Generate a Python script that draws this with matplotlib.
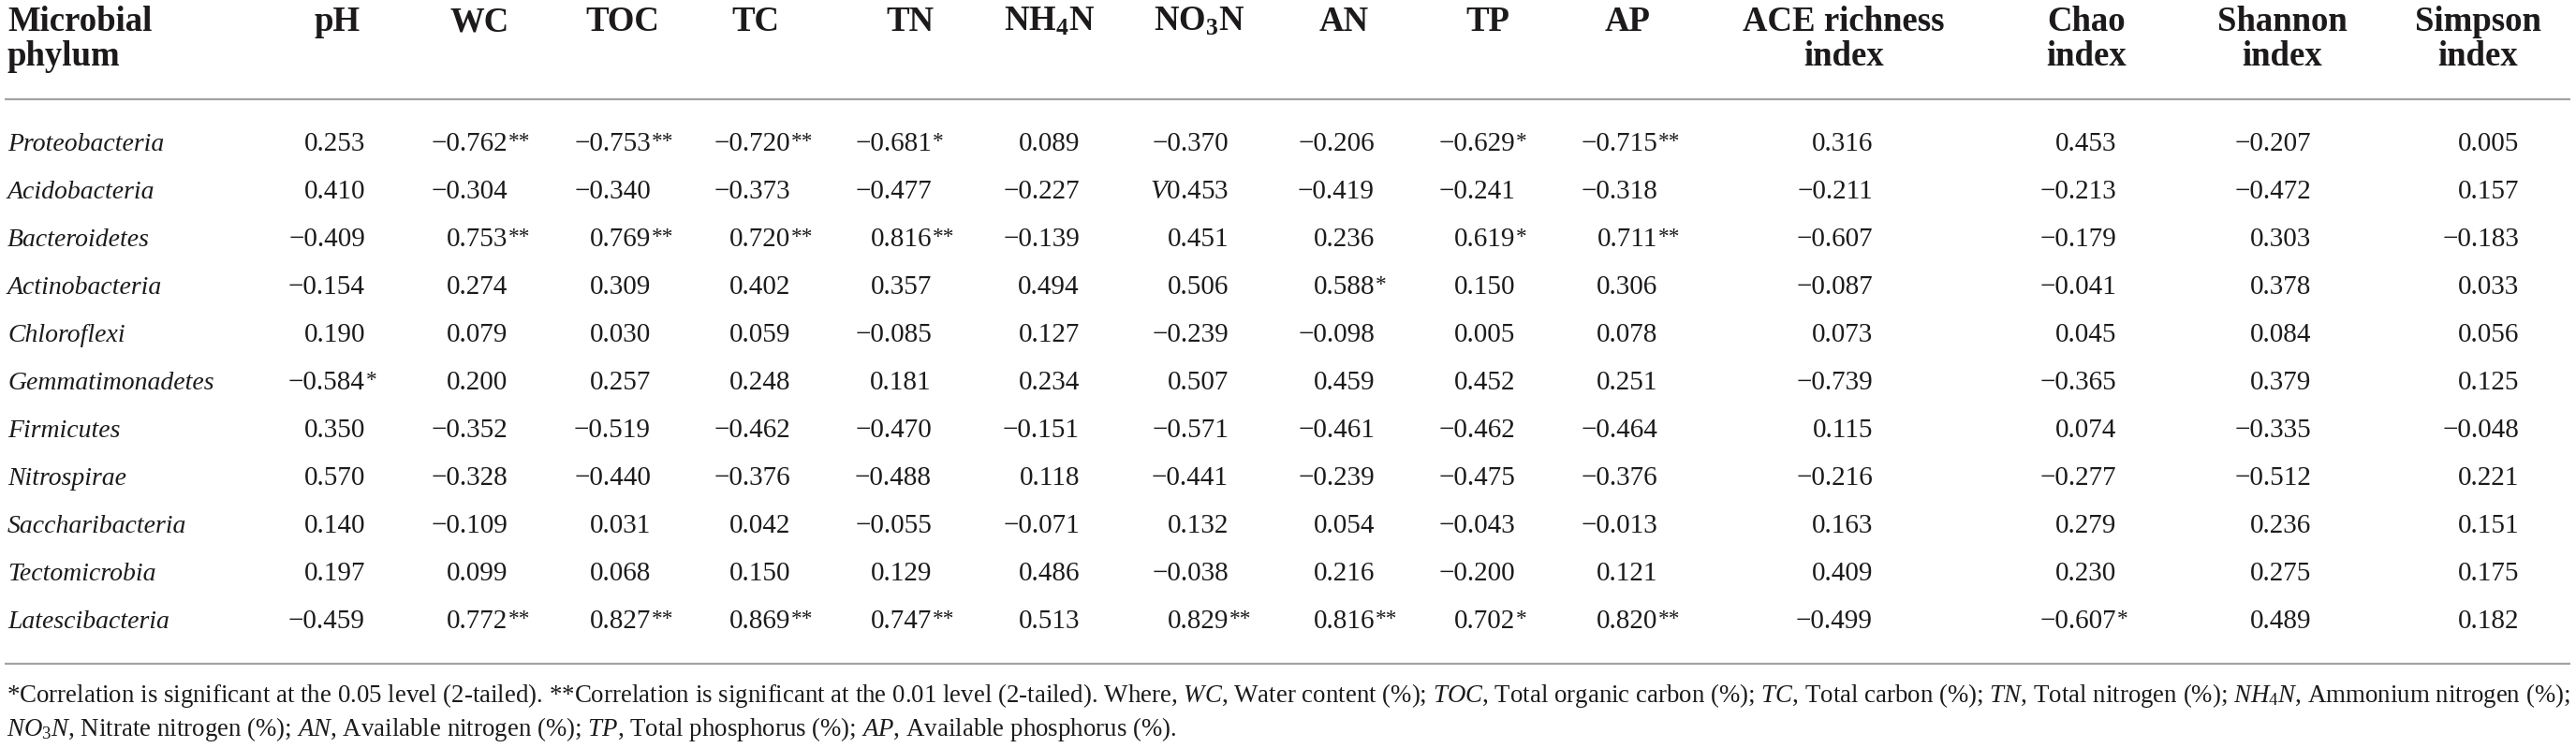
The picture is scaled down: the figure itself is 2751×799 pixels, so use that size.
import matplotlib
matplotlib.use("Agg")
import matplotlib.pyplot as plt

# ---------------- data ----------------
phyla = ["Proteobacteria", "Acidobacteria", "Bacteroidetes", "Actinobacteria",
         "Chloroflexi", "Gemmatimonadetes", "Firmicutes", "Nitrospirae",
         "Saccharibacteria", "Tectomicrobia", "Latescibacteria"]

col_labels = ["pH", "WC", "TOC", "TC", "TN", r"NH$_\mathbf{4}$N", r"NO$_\mathbf{3}$N",
              "AN", "TP", "AP", "ACE richness\nindex", "Chao\nindex",
              "Shannon\nindex", "Simpson\nindex"]

ph      = [0.253, 0.410, -0.409, -0.154, 0.190, -0.584, 0.350, 0.570, 0.140, 0.197, -0.459]
wc      = [-0.762, -0.304, 0.753, 0.274, 0.079, 0.200, -0.352, -0.328, -0.109, 0.099, 0.772]
toc     = [-0.753, -0.340, 0.769, 0.309, 0.030, 0.257, -0.519, -0.440, 0.031, 0.068, 0.827]
tc      = [-0.720, -0.373, 0.720, 0.402, 0.059, 0.248, -0.462, -0.376, 0.042, 0.150, 0.869]
tn      = [-0.681, -0.477, 0.816, 0.357, -0.085, 0.181, -0.470, -0.488, -0.055, 0.129, 0.747]
nh4n    = [0.089, -0.227, -0.139, 0.494, 0.127, 0.234, -0.151, 0.118, -0.071, 0.486, 0.513]
no3n    = [-0.370, 0.453, 0.451, 0.506, -0.239, 0.507, -0.571, -0.441, 0.132, -0.038, 0.829]
an      = [-0.206, -0.419, 0.236, 0.588, -0.098, 0.459, -0.461, -0.239, 0.054, 0.216, 0.816]
tp      = [-0.629, -0.241, 0.619, 0.150, 0.005, 0.452, -0.462, -0.475, -0.043, -0.200, 0.702]
ap      = [-0.715, -0.318, 0.711, 0.306, 0.078, 0.251, -0.464, -0.376, -0.013, 0.121, 0.820]
ace     = [0.316, -0.211, -0.607, -0.087, 0.073, -0.739, 0.115, -0.216, 0.163, 0.409, -0.499]
chao    = [0.453, -0.213, -0.179, -0.041, 0.045, -0.365, 0.074, -0.277, 0.279, 0.230, -0.607]
shannon = [-0.207, -0.472, 0.303, 0.378, 0.084, 0.379, -0.335, -0.512, 0.236, 0.275, 0.489]
simpson = [0.005, 0.157, -0.183, 0.033, 0.056, 0.125, -0.048, 0.221, 0.151, 0.175, 0.182]

# number of significance stars per cell
ph_sig      = [0, 0, 0, 0, 0, 1, 0, 0, 0, 0, 0]
wc_sig      = [2, 0, 2, 0, 0, 0, 0, 0, 0, 0, 2]
toc_sig     = [2, 0, 2, 0, 0, 0, 0, 0, 0, 0, 2]
tc_sig      = [2, 0, 2, 0, 0, 0, 0, 0, 0, 0, 2]
tn_sig      = [1, 0, 2, 0, 0, 0, 0, 0, 0, 0, 2]
nh4n_sig    = [0] * 11
no3n_sig    = [0, 0, 0, 0, 0, 0, 0, 0, 0, 0, 2]
an_sig      = [0, 0, 0, 1, 0, 0, 0, 0, 0, 0, 2]
tp_sig      = [1, 0, 1, 0, 0, 0, 0, 0, 0, 0, 1]
ap_sig      = [2, 0, 2, 0, 0, 0, 0, 0, 0, 0, 2]
ace_sig     = [0] * 11
chao_sig    = [0, 0, 0, 0, 0, 0, 0, 0, 0, 0, 1]
shannon_sig = [0] * 11
simpson_sig = [0] * 11

# stray italic prefix printed in the source table (row, column) -> text
cell_prefix = {(1, 6): "V"}

footnote_1 = (r"*Correlation is significant at the 0.05 level (2-tailed). **Correlation is significant "
              r"at the 0.01 level (2-tailed). Where, $\mathit{WC}$, Water content (%); $\mathit{TOC}$, "
              r"Total organic carbon (%); $\mathit{TC}$, Total carbon (%); $\mathit{TN}$, Total nitrogen (%); "
              r"$\mathit{NH_4N}$, Ammonium nitrogen (%);")
footnote_2 = (r"$\mathit{NO_3N}$, Nitrate nitrogen (%); $\mathit{AN}$, Available nitrogen (%); "
              r"$\mathit{TP}$, Total phosphorus (%); $\mathit{AP}$, Available phosphorus (%).")

columns = [ph, wc, toc, tc, tn, nh4n, no3n, an, tp, ap, ace, chao, shannon, simpson]
sigs = [ph_sig, wc_sig, toc_sig, tc_sig, tn_sig, nh4n_sig, no3n_sig, an_sig, tp_sig,
        ap_sig, ace_sig, chao_sig, shannon_sig, simpson_sig]

# ---------------- layout ----------------
W, H = 2751, 799
plt.rcParams["mathtext.fontset"] = "custom"
plt.rcParams["mathtext.rm"] = "Liberation Serif"
plt.rcParams["mathtext.it"] = "Liberation Serif:italic"
plt.rcParams["mathtext.bf"] = "Liberation Serif:bold"
plt.rcParams["font.family"] = ["Liberation Serif", "DejaVu Serif"]

TXT = "#1c1a1b"
RULE = "#a3a3a3"
head_fs = 26.5
label_fs = 20
num_fs = 21

head_centers = [360, 512, 665, 807, 972, 1121, 1281, 1435, 1589, 1738, 1969, 2228, 2437, 2646]
num_right = [390, 542, 695, 844, 995, 1153, 1312, 1468, 1618, 1770, 2000, 2260, 2468, 2690]
label_x = 8
head_base = [33, 70]
row_base0, row_step = 161, 51

fig = plt.figure(figsize=(W / 100, H / 100), dpi=100)
ax = fig.add_axes([0, 0, 1, 1])
ax.set_xlim(0, W)
ax.set_ylim(H, 0)
ax.axis("off")

# header
for i, line in enumerate(["Microbial", "phylum"]):
    ax.text(label_x, head_base[i], line, fontsize=head_fs, fontweight="bold",
            ha="left", va="baseline", color=TXT)
for cx, lab in zip(head_centers, col_labels):
    for i, line in enumerate(lab.split("\n")):
        ax.text(cx, head_base[i], line, fontsize=head_fs, fontweight="bold",
                ha="center", va="baseline", color=TXT)

ax.plot([5, 2745], [106, 106], color=RULE, lw=1.6, solid_capstyle="butt")


def fmt(v):
    return ("\u2212" if v < 0 else "") + f"{abs(v):.3f}"


for r, name in enumerate(phyla):
    yb = row_base0 + r * row_step
    ax.text(label_x, yb, name, fontsize=label_fs, style="italic",
            ha="left", va="baseline", color=TXT)
    for c, (vals, sg) in enumerate(zip(columns, sigs)):
        s = fmt(vals[r])
        if (r, c) in cell_prefix:
            s = r"$\mathit{" + cell_prefix[(r, c)] + "}$" + s
        ax.text(num_right[c], yb, s, fontsize=num_fs, ha="right",
                va="baseline", color=TXT)
        if sg[r]:
            ax.text(num_right[c] + 1, yb - 4, "*" * sg[r], fontsize=num_fs * 0.8,
                    ha="left", va="baseline", color=TXT)

ax.plot([5, 2745], [709, 709], color=RULE, lw=1.6, solid_capstyle="butt")

# footnotes, sized so the first line spans the table width
fn1 = ax.text(7, 750, footnote_1, fontsize=14, ha="left", va="baseline", color=TXT)
fig.canvas.draw()
w = fn1.get_window_extent(fig.canvas.get_renderer()).width
fs = 14 * (2741 / w)
fn1.set_fontsize(fs)
ax.text(7, 786, footnote_2, fontsize=fs, ha="left", va="baseline", color=TXT)

fig.savefig("out.png", dpi=100)
